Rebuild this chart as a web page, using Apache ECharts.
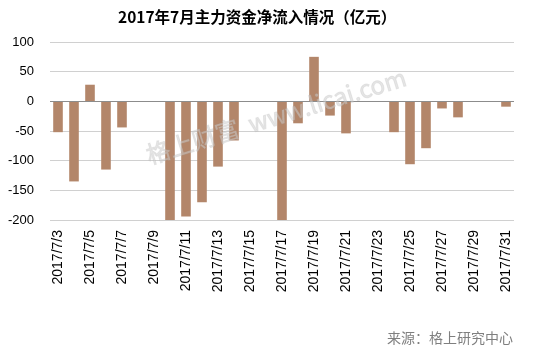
<!DOCTYPE html>
<html>
<head>
<meta charset="utf-8">
<script src="https://cdn.jsdelivr.net/npm/echarts@6/dist/echarts.min.js"></script>
<style>
  html, body { margin: 0; padding: 0; background: #fff; }
  #main { width: 548px; height: 355px; }
</style>
</head>
<body>
<div id="main"></div>
<script>
// 日期（周末无数据）
var dates = [];
for (var d = 3; d <= 31; d++) {
    dates.push('2017/7/' + d);
}
// 主力资金净流入（亿元），周末为 null
var netInflow = [
    -52, -135, 28, -115, -44, null, null,
    -200, -194, -170, -110, -66, null, null,
    -200, -37, 75, -24, -54, null, null,
    -52, -106, -79, -12, -27, null, null,
    -9
];
var yTicks = { min: -200, max: 100, interval: 50 };

var myChart = echarts.init(document.getElementById('main'));

var option = {
    backgroundColor: '#fff',
    animation: false,
    title: {
        text: '2017年7月主力资金净流入情况（亿元）',
        left: 113,
        top: 4,
        textStyle: {
            fontFamily: 'Noto Sans CJK SC',
            fontSize: 15.5,
            fontWeight: 'bold',
            color: '#000'
        }
    },
    grid: {
        left: 50,
        right: 34,
        top: 42,
        bottom: 135
    },
    xAxis: {
        type: 'category',
        data: dates,
        axisLine: { show: false },
        axisTick: { show: false },
        axisLabel: {
            interval: 1,
            rotate: 90,
            margin: 10,
            fontFamily: 'Liberation Sans',
            fontSize: 14,
            color: '#000'
        }
    },
    yAxis: {
        type: 'value',
        min: yTicks.min,
        max: yTicks.max,
        interval: yTicks.interval,
        axisLine: { show: false },
        axisTick: { show: false },
        axisLabel: {
            margin: 16,
            fontFamily: 'Liberation Sans',
            fontSize: 13,
            color: '#000'
        },
        splitLine: { lineStyle: { color: '#d0d0d0', width: 1 } }
    },
    graphic: [
        {
            type: 'text',
            left: 387,
            top: 331,
            style: {
                text: '来源：格上研究中心',
                font: '14px "Noto Sans CJK SC"',
                fill: '#7f7f7f'
            }
        },
        {
            type: 'text',
            x: 276,
            y: 116,
            rotation: 17 * Math.PI / 180,
            z: 100,
            style: {
                text: '格上财富  www.licai.com',
                font: '24px "Noto Sans CJK SC"',
                fill: 'rgba(205,205,205,0.5)',
                stroke: 'rgba(170,170,170,0.25)',
                lineWidth: 1,
                align: 'center',
                verticalAlign: 'middle'
            }
        }
    ],
    series: [{
        type: 'bar',
        data: netInflow,
        barWidth: '60%',
        itemStyle: { color: '#B3866A' },
        markLine: {
            silent: true,
            symbol: 'none',
            label: { show: false },
            lineStyle: { color: '#8c8c8c', type: 'solid', width: 1 },
            data: [{ yAxis: 0 }]
        }
    }]
};

myChart.setOption(option);
</script>
</body>
</html>
